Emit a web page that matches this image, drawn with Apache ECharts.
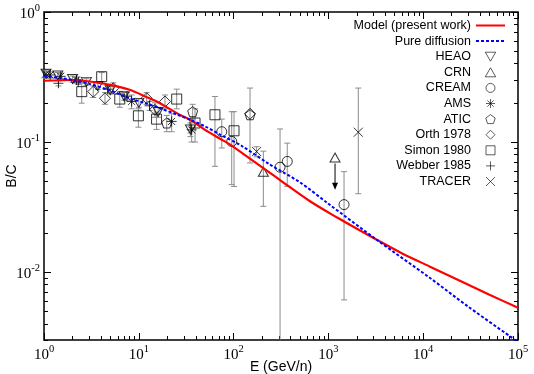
<!DOCTYPE html>
<html><head><meta charset="utf-8">
<script src="https://cdn.jsdelivr.net/npm/echarts@6/dist/echarts.min.js"></script>
<style>html,body{margin:0;padding:0;background:#fff}#c{width:534px;height:374px}</style>
</head><body><div id="c"></div>
<script>
// ---- tick values ----
const xTicks = [1, 10, 100, 1000, 10000, 100000];
const yTicks = [0.01, 0.1, 1];
const xMin = 1, xMax = 100000, yMin = 0.003, yMax = 1;

// ---- model curves ----
const modelE  = [1, 2, 3, 5, 8, 12, 16.7, 27, 35, 50, 72, 92, 150, 242, 309, 640, 1262, 2000, 3234, 6000, 11800, 25000, 50000, 100000];
const modelBC = [0.296, 0.300, 0.292, 0.275, 0.252, 0.222, 0.199, 0.162, 0.148, 0.124, 0.106, 0.0955, 0.0742, 0.0579, 0.051, 0.035, 0.026, 0.0215, 0.0177, 0.0139, 0.011, 0.0085, 0.0067, 0.0053];
const diffE   = [1, 2, 3, 5, 8, 12, 17, 25, 35, 50, 72, 120, 242, 500, 1000, 3234, 11800, 30000, 100000];
const diffBC  = [0.323, 0.30, 0.28, 0.249, 0.217, 0.198, 0.181, 0.163, 0.148, 0.132, 0.114, 0.094, 0.067, 0.049, 0.0335, 0.0177, 0.0090, 0.0054, 0.0029];

// ---- measurements: [E, B/C, low, high] ----
const heao   = [[1.05,0.335,0.318,0.352],[1.4,0.325,0.308,0.342],[2.0,0.305,0.288,0.322],[2.8,0.29,0.273,0.307],[3.7,0.27,0.254,0.286],[5.0,0.25,0.234,0.266],[7.0,0.225,0.21,0.24],[10.0,0.2,0.185,0.215],[16,0.17,0.155,0.185],[35,0.125,0.11,0.14]];
const crn    = [[206,0.059,0.032,0.085],[1175,0.076,null,null]];
const crnLimit = [[1175,0.076,0.043]];
const cream  = [[75,0.12,0.09,0.15],[95.5,0.101,0.047,0.171],[309,0.064,0.001,0.126],[368,0.0709,0.0456,0.098],[1462,0.033,0.0061,0.0592]];
const ams    = [[1.16,0.328,0.31,0.346],[1.5,0.32,0.302,0.338],[2.2,0.3,0.283,0.317],[8.4,0.205,0.18,0.23],[22.2,0.144,0.12,0.165],[36.1,0.124,0.1,0.15]];
const atic   = [[19.7,0.14,0.12,0.16],[37,0.171,0.15,0.195],[149,0.162,0.069,0.26]];
const orth   = [[3.31,0.244,0.22,0.27],[4.4,0.217,0.195,0.24],[5.38,0.259,0.235,0.285],[12.1,0.217,0.195,0.24],[14.8,0.177,0.155,0.2],[18.9,0.205,0.18,0.23],[149,0.165,null,null]];
const simon  = [[2.5,0.244,0.199,0.283],[4.06,0.318,0.29,0.342],[6.3,0.214,0.185,0.245],[9.9,0.159,0.13,0.18],[15.4,0.15,0.125,0.17],[25.1,0.214,0.18,0.255],[39.2,0.14,0.1,0.18],[63.6,0.162,0.065,0.224],[101,0.122,0.0455,0.171]];
const webber = [[1.42,0.283,0.27,0.296],[2.3,0.29,0.277,0.303],[4.7,0.255,0.24,0.27],[7.5,0.225,0.21,0.24],[13,0.19,0.175,0.205]];
const tracer = [[1.05,0.335,0.31,0.36],[175,0.0845,0.077,0.092],[2067,0.119,0.04,0.26]];

const seriesNames = ['Model (present work)','Pure diffusion','HEAO','CRN','CREAM','AMS','ATIC','Orth 1978','Simon 1980','Webber 1985','TRACER'];

// minor tick values (2..9 per decade)
function minors(lo, hi) {
  const out = [];
  for (let d = Math.floor(Math.log10(lo)); d < Math.ceil(Math.log10(hi)); d++) {
    for (let k = 2; k <= 9; k++) { const v = k * Math.pow(10, d); if (v >= lo && v <= hi) out.push(v); }
  }
  return out;
}
const xMinor = minors(xMin, xMax);
const yMinor = minors(yMin, yMax);

const SYM = {
  down: 'path://M0,10L-10,-7.32L10,-7.32Z',
  up: 'path://M0,-10L10,7.32L-10,7.32Z',
  circle: 'path://M-10,0A10,10,0,1,0,10,0A10,10,0,1,0,-10,0Z',
  star: 'path://M0,-10L0,10M-10,0L10,0M-7.07,-7.07L7.07,7.07M-7.07,7.07L7.07,-7.07',
  pent: 'path://M0,-10L9.51,-3.09L5.88,8.09L-5.88,8.09L-9.51,-3.09Z',
  diamond: 'path://M0,-10L10,0L0,10L-10,0Z',
  square: 'path://M-10,-10L10,-10L10,10L-10,10Z',
  plus: 'path://M0,-10L0,10M-10,0L10,0',
  cross: 'path://M-10,-10L10,10M-10,10L10,-10'
};

const supFmt = v => '{b|10}{s|' + Math.round(Math.log10(v)) + '}';
const richLab = {
  b: { fontFamily: 'Liberation Serif', fontSize: 15, color: '#000', lineHeight: 19, verticalAlign: 'bottom' },
  s: { fontFamily: 'Liberation Serif', fontSize: 10.5, color: '#000', lineHeight: 10, verticalAlign: 'top' }
};

function baseAxis(pos, min, max) {
  return { type: 'log', logBase: 10, position: pos, min: min, max: max,
    axisLine: { show: false }, splitLine: { show: false }, minorTick: { show: false } };
}
function majorAxis(pos, min, max, ticks, withLabels, extra) {
  const a = baseAxis(pos, min, max);
  a.axisTick = { show: true, inside: true, length: 7, customValues: ticks, lineStyle: { color: '#000', width: 1 } };
  a.axisLabel = withLabels ? { show: true, customValues: ticks, formatter: supFmt, rich: richLab, margin: 4 } : { show: false };
  return Object.assign(a, extra || {});
}
function minorAxis(pos, min, max, ticks) {
  const a = baseAxis(pos, min, max);
  a.axisTick = { show: true, inside: true, length: 4, customValues: ticks, lineStyle: { color: '#000', width: 1 } };
  a.axisLabel = { show: false };
  return a;
}

// error bars from all datasets
const allErr = [];
[heao, crn, cream, ams, atic, orth, simon, webber, tracer].forEach(arr => arr.forEach(d => { if (d[2] != null) allErr.push([d[0], d[1], d[2], d[3]]); }));

function errRender(params, api) {
  const x = api.value(0); let lo = api.value(2); const hi = api.value(3);
  let capLo = true;
  if (lo < yMin) { lo = yMin; capLo = false; }
  const p1 = api.coord([x, hi]), p2 = api.coord([x, lo]);
  const w = 3, st = { stroke: '#8c8c8c', lineWidth: 1 };
  const ch = [
    { type: 'line', shape: { x1: p1[0], y1: p1[1], x2: p2[0], y2: p2[1] }, style: st },
    { type: 'line', shape: { x1: p1[0] - w, y1: p1[1], x2: p1[0] + w, y2: p1[1] }, style: st }
  ];
  if (capLo) ch.push({ type: 'line', shape: { x1: p2[0] - w, y1: p2[1], x2: p2[0] + w, y2: p2[1] }, style: st });
  return { type: 'group', children: ch };
}
function arrowRender(params, api) {
  const x = api.value(0);
  const p1 = api.coord([x, api.value(1)]), p2 = api.coord([x, api.value(2)]);
  const st = { stroke: '#000', lineWidth: 1 };
  return { type: 'group', children: [
    { type: 'line', shape: { x1: p1[0], y1: p1[1] + 6, x2: p2[0], y2: p2[1] - 2 }, style: st },
    { type: 'polygon', shape: { points: [[p2[0] - 3, p2[1] - 7], [p2[0] + 3, p2[1] - 7], [p2[0], p2[1]]] }, style: { fill: '#000' } }
  ] };
}

function scat(name, data, sym, size) {
  return { name: name, type: 'scatter', data: data.map(d => [d[0], d[1]]), symbol: sym, symbolSize: size,
    itemStyle: { color: 'rgba(0,0,0,0)', borderColor: '#000', borderWidth: 1 }, z: 3, clip: false };
}

const chart = echarts.init(document.getElementById('c'), null, { renderer: 'canvas' });
chart.setOption({
  animation: false,
  backgroundColor: '#fff',
  grid: { left: 44, right: 16, top: 12, bottom: 34, outerBoundsMode: 'none', containLabel: false,
    show: true, borderColor: '#000', borderWidth: 1.5, backgroundColor: 'transparent' },
  legend: {
    data: seriesNames, orient: 'vertical', align: 'right', right: 28, top: 19, padding: 0,
    itemWidth: 29, itemHeight: 9, itemGap: 2.6, selectedMode: false,
    itemStyle: { borderWidth: 0.8 },
    textStyle: { fontFamily: 'Liberation Sans', fontSize: 12.5, color: '#000', lineHeight: 9 }
  },
  xAxis: [
    majorAxis('bottom', xMin, xMax, xTicks, true, { name: 'E (GeV/n)', nameLocation: 'middle', nameGap: 20, nameMoveOverlap: false,
      nameTextStyle: { fontFamily: 'Liberation Sans', fontSize: 14, color: '#000' } }),
    minorAxis('bottom', xMin, xMax, xMinor),
    majorAxis('top', xMin, xMax, xTicks, false),
    minorAxis('top', xMin, xMax, xMinor)
  ],
  yAxis: [
    majorAxis('left', yMin, yMax, yTicks, true, { name: 'B/C', nameLocation: 'middle', nameGap: 25, nameMoveOverlap: false,
      nameTextStyle: { fontFamily: 'Liberation Sans', fontSize: 14, color: '#000' } }),
    minorAxis('left', yMin, yMax, yMinor),
    majorAxis('right', yMin, yMax, yTicks, false),
    minorAxis('right', yMin, yMax, yMinor)
  ],
  series: [
    { name: 'errbars', type: 'custom', data: allErr, renderItem: errRender, z: 1, silent: true },
    { name: 'crnlimit', type: 'custom', data: crnLimit, renderItem: arrowRender, z: 2, silent: true },
    scat('HEAO', heao, SYM.down, [10, 9]),
    scat('CRN', crn, SYM.up, [10, 9]),
    scat('CREAM', cream, SYM.circle, 10),
    scat('AMS', ams, SYM.star, 10),
    scat('ATIC', atic, SYM.pent, 10),
    scat('Orth 1978', orth, SYM.diamond, 11),
    scat('Simon 1980', simon, SYM.square, 10),
    scat('Webber 1985', webber, SYM.plus, 10),
    scat('TRACER', tracer, SYM.cross, 9),
    { name: 'Model (present work)', type: 'line', data: modelE.map((e, i) => [e, modelBC[i]]), symbol: 'none', smooth: 0.3,
      lineStyle: { color: '#ff0000', width: 2.2 }, itemStyle: { color: 'rgba(0,0,0,0)', borderColor: 'rgba(0,0,0,0)' }, z: 5 },
    { name: 'Pure diffusion', type: 'line', data: diffE.map((e, i) => [e, diffBC[i]]), symbol: 'none', smooth: 0.3,
      lineStyle: { color: '#0000ff', width: 2, type: [3, 2] }, itemStyle: { color: 'rgba(0,0,0,0)', borderColor: 'rgba(0,0,0,0)' }, z: 6 }
  ]
});
</script>
</body></html>
